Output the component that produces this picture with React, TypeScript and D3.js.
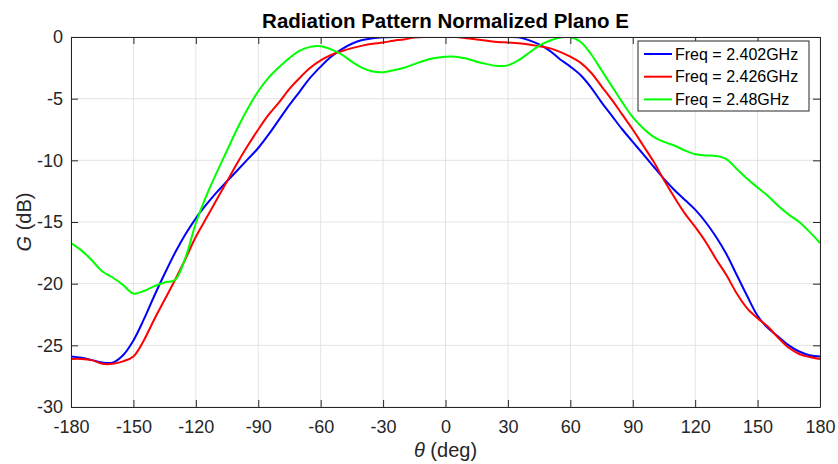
import React, { useRef, useEffect } from "react";
import * as d3 from "d3";

const theta = [
  -180, -175, -170, -165, -160, -155, -150, -145, -140, -135, -130, -125, -120, -115, -110, -105, -100, -95, -90, -85,
  -80, -75, -70, -65, -60, -55, -50, -45, -40, -35, -30, -25, -20, -15, -10, -5, 0, 5, 10, 15, 20, 25, 30, 35, 40, 45,
  50, 55, 60, 65, 70, 75, 80, 85, 90, 95, 100, 105, 110, 115, 120, 125, 130, 135, 140, 145, 150, 155, 160, 165, 170,
  175, 180,
];

const g2402 = [
  -25.9, -26.0, -26.2, -26.4, -26.4, -25.8, -24.6, -22.9, -21.0, -19.2, -17.5, -16.0, -14.7, -13.6, -12.6, -11.7,
  -10.8, -9.9, -9.0, -7.9, -6.7, -5.5, -4.4, -3.3, -2.4, -1.6, -1.0, -0.55, -0.25, -0.1, -0.03, 0, 0, 0, 0, 0, 0, 0, 0,
  0, 0, 0, 0, -0.03, -0.25, -0.6, -1.1, -1.8, -2.4, -3.1, -4.1, -5.3, -6.4, -7.5, -8.5, -9.5, -10.5, -11.5, -12.4,
  -13.2, -14.0, -15.0, -16.2, -17.6, -19.3, -21.0, -22.6, -23.6, -24.3, -25.0, -25.5, -25.8, -25.9,
];

const g2426 = [
  -26.1, -26.1, -26.2, -26.5, -26.5, -26.3, -25.9, -24.6, -22.9, -21.3, -19.7, -18.0, -16.2, -14.7, -13.2, -11.7,
  -10.2, -8.8, -7.5, -6.3, -5.3, -4.2, -3.3, -2.5, -1.9, -1.45, -1.15, -0.9, -0.7, -0.55, -0.45, -0.3, -0.2, -0.05, 0,
  0, 0, 0, -0.1, -0.2, -0.3, -0.4, -0.45, -0.5, -0.6, -0.75, -0.9, -1.2, -1.6, -2.1, -2.9, -4.0, -5.1, -6.3, -7.5,
  -8.8, -10.1, -11.6, -13.0, -14.3, -15.4, -16.6, -18.0, -19.3, -20.8, -22.0, -22.8, -23.5, -24.4, -25.2, -25.7, -25.95,
  -26.1,
];

const g2480 = [
  -16.7, -17.3, -18.1, -19.0, -19.5, -20.1, -20.8, -20.6, -20.2, -19.9, -19.7, -17.9, -15.1, -12.9, -11.0, -9.2, -7.4,
  -5.8, -4.4, -3.3, -2.45, -1.7, -1.1, -0.8, -0.75, -1.0, -1.4, -2.0, -2.5, -2.8, -2.85, -2.7, -2.5, -2.2, -1.9, -1.7,
  -1.6, -1.6, -1.75, -2.0, -2.2, -2.35, -2.3, -1.9, -1.3, -0.7, -0.3, -0.05, 0, -0.4, -1.4, -2.7, -4.0, -5.3, -6.5,
  -7.4, -8.1, -8.5, -8.8, -9.2, -9.5, -9.6, -9.65, -9.9, -10.7, -11.5, -12.2, -12.9, -13.7, -14.4, -15.0, -15.8, -16.7,
];

const seriesNames = ["Freq = 2.402GHz", "Freq = 2.426GHz", "Freq = 2.48GHz"];
const seriesColors = ["#0000ff", "#ff0000", "#00ff00"];
const xTicks = [-180, -150, -120, -90, -60, -30, 0, 30, 60, 90, 120, 150, 180];
const yTicks = [0, -5, -10, -15, -20, -25, -30];

const App = () => {
  const chartRef = useRef<SVGSVGElement>(null);

  useEffect(() => {
    const width = 838;
    const height = 464;
    const margin = { top: 37, right: 18, bottom: 57, left: 71 };
    const font = "'Liberation Sans', Arial, Helvetica, sans-serif";
    const ink = "#262626";

    const svg = d3.select(chartRef.current);
    svg.selectAll("*").remove();

    const x = d3.scaleLinear().domain([-180, 180]).range([margin.left, width - margin.right]);
    const y = d3.scaleLinear().domain([-30, 0]).range([height - margin.bottom, margin.top]);
    const [x0, x1] = x.range();
    const [y0, y1] = y.range();

    svg.append("rect").attr("width", width).attr("height", height).attr("fill", "#fff");

    svg
      .append("clipPath")
      .attr("id", "zone")
      .append("rect")
      .attr("x", x0)
      .attr("y", y1)
      .attr("width", x1 - x0)
      .attr("height", y0 - y1);

    // grille
    const grid = svg.append("g").attr("stroke", "#e3e3e3").attr("stroke-width", 1);
    grid
      .selectAll("line.gx")
      .data(xTicks)
      .enter()
      .append("line")
      .attr("x1", (d) => x(d))
      .attr("x2", (d) => x(d))
      .attr("y1", y1)
      .attr("y2", y0);
    grid
      .selectAll("line.gy")
      .data(yTicks)
      .enter()
      .append("line")
      .attr("x1", x0)
      .attr("x2", x1)
      .attr("y1", (d) => y(d))
      .attr("y2", (d) => y(d));

    // courbes
    const series = [g2402, g2426, g2480];
    const line = d3
      .line<number>()
      .x((_, i) => x(theta[i]))
      .y((d) => y(d))
      .curve(d3.curveCatmullRom.alpha(0.5));

    svg
      .append("g")
      .attr("clip-path", "url(#zone)")
      .selectAll("path")
      .data(series)
      .enter()
      .append("path")
      .attr("d", (d) => line(d))
      .attr("fill", "none")
      .attr("stroke", (_, i) => seriesColors[i])
      .attr("stroke-width", 2)
      .attr("stroke-linejoin", "round");

    // axes (boîte + graduations intérieures)
    const tickLen = 7;
    const fmt = (d: any) => String(d);
    const axisBottom = d3.axisBottom(x).tickValues(xTicks).tickFormat(fmt).tickSizeInner(-tickLen).tickSizeOuter(0).tickPadding(13);
    const axisLeft = d3.axisLeft(y).tickValues(yTicks).tickFormat(fmt).tickSizeInner(-tickLen).tickSizeOuter(0).tickPadding(8);
    const axisTop = d3.axisTop(x).tickValues(xTicks).tickSizeInner(-tickLen).tickSizeOuter(0).tickFormat(() => "");
    const axisRight = d3.axisRight(y).tickValues(yTicks).tickSizeInner(-tickLen).tickSizeOuter(0).tickFormat(() => "");

    const styleAxis = (g: any) => {
      g.select(".domain").attr("stroke", ink).attr("stroke-width", 1);
      g.selectAll(".tick line").attr("stroke", ink).attr("stroke-width", 1);
      g.selectAll(".tick text").attr("fill", ink).style("font-family", font).style("font-size", "18px");
    };

    svg.append("g").attr("transform", `translate(0,${y0})`).call(axisBottom).call(styleAxis);
    svg.append("g").attr("transform", `translate(${x0},0)`).call(axisLeft).call(styleAxis);
    svg.append("g").attr("transform", `translate(0,${y1})`).call(axisTop).call(styleAxis);
    svg.append("g").attr("transform", `translate(${x1},0)`).call(axisRight).call(styleAxis);

    // titre
    svg
      .append("text")
      .attr("x", (x0 + x1) / 2)
      .attr("y", 28)
      .attr("text-anchor", "middle")
      .style("font-family", font)
      .style("font-size", "20.5px")
      .style("font-weight", "bold")
      .attr("fill", "#000")
      .text("Radiation Pattern Normalized Plano E");

    // label x
    const xl = svg
      .append("text")
      .attr("x", (x0 + x1) / 2)
      .attr("y", 457)
      .attr("text-anchor", "middle")
      .style("font-family", font)
      .style("font-size", "20px")
      .attr("fill", ink);
    xl.append("tspan").style("font-style", "italic").text("θ");
    xl.append("tspan").text(" (deg)");

    // label y
    const yl = svg
      .append("text")
      .attr("transform", `translate(31,${(y0 + y1) / 2}) rotate(-90)`)
      .attr("text-anchor", "middle")
      .style("font-family", font)
      .style("font-size", "20px")
      .attr("fill", ink);
    yl.append("tspan").style("font-style", "italic").text("G");
    yl.append("tspan").text(" (dB)");

    // légende
    const legend = svg.append("g").attr("transform", "translate(638,41)");
    legend
      .append("rect")
      .attr("width", 171)
      .attr("height", 70)
      .attr("fill", "#fff")
      .attr("stroke", ink)
      .attr("stroke-width", 1);
    const rows = legend
      .selectAll("g.row")
      .data(seriesNames)
      .enter()
      .append("g")
      .attr("transform", (_, i) => `translate(0,${13 + i * 22.7})`);
    rows
      .append("line")
      .attr("x1", 6)
      .attr("x2", 34)
      .attr("stroke", (_, i) => seriesColors[i])
      .attr("stroke-width", 2);
    rows
      .append("text")
      .attr("x", 37)
      .attr("dy", "0.35em")
      .style("font-family", font)
      .style("font-size", "16px")
      .attr("fill", "#000")
      .text((d) => d);
  }, []);

  return (
    <svg ref={chartRef} width={838} height={464} style={{ position: "absolute", left: 0, top: 0 }}></svg>
  );
};

export default App;
